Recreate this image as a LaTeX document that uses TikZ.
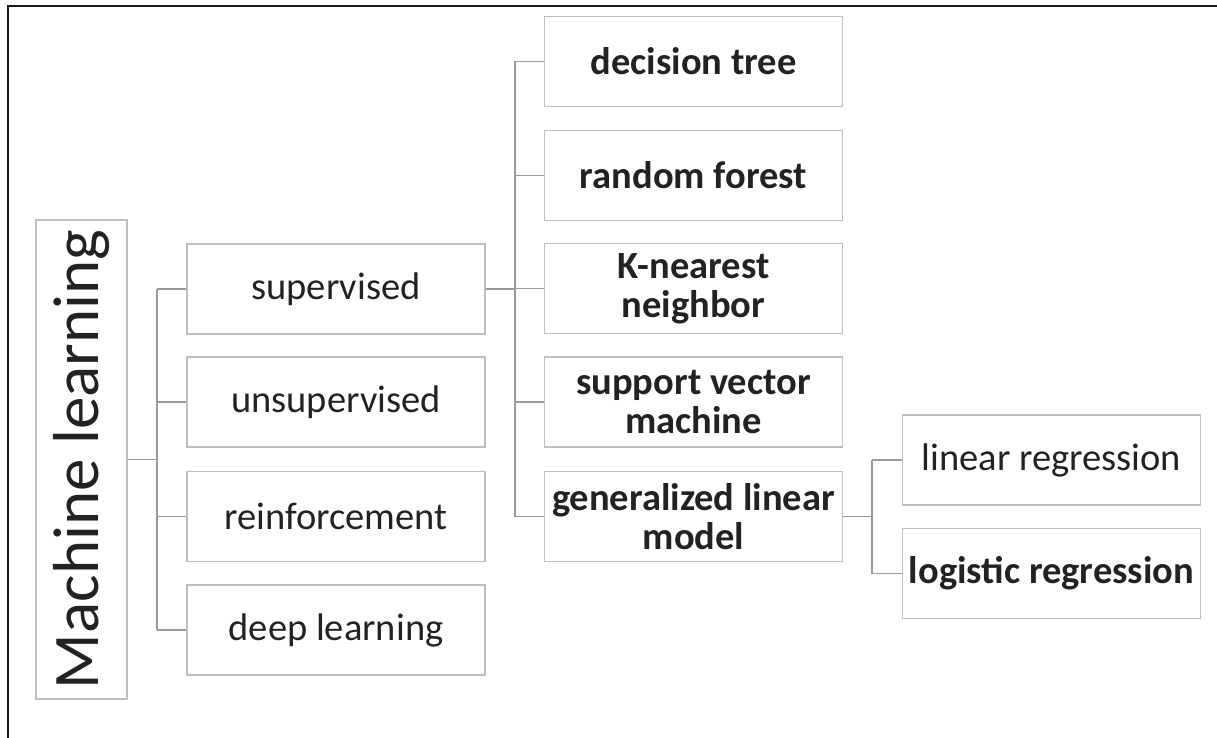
\documentclass[tikz,border=0pt]{standalone}
\usepackage{fontspec}
\setmainfont{Carlito}
\definecolor{boxgray}{HTML}{BFBFBF}
\definecolor{linegray}{HTML}{9A9A9A}
\definecolor{txt}{HTML}{222222}
\begin{document}
\begin{tikzpicture}[x=1pt,y=-1pt,
  box/.style={draw=boxgray, line width=1.2pt, minimum width=298pt, minimum height=90pt,
    inner sep=0pt, align=center, text=txt, font=\fontsize{38.5}{39}\selectfont},
  bbox/.style={box, font=\fontsize{38.5}{39}\selectfont\bfseries},
  conn/.style={draw=linegray, line width=1.3pt}]
\useasboundingbox (0,0) rectangle (1217,738);
% outer frame (top and left edges only)
\draw[line width=2pt, black!90] (8,738) -- (8,6) -- (1217,6);

% root
\node[draw=boxgray, line width=1.2pt, rotate=90, minimum width=479pt, minimum height=91pt,
  inner sep=0pt, text=txt, font=\fontsize{65}{66}\selectfont] (ml) at (81.5,459.5) {Machine learning};

% first level
\node[box] (sup)   at (336,289)   {supervised};
\node[box] (unsup) at (336,402)   {unsupervised};
\node[box] (reinf) at (336,516.5) {reinforcement};
\node[box] (deep)  at (336,630)   {deep learning};

% second level
\node[bbox] (dt)  at (693.5,61.5)  {decision tree};
\node[bbox] (rf)  at (693.5,175.5) {random forest};
\node[bbox] (knn) at (693.5,288.5) {K-nearest\\neighbor};
\node[bbox] (svm) at (693.5,402)   {support vector\\machine};
\node[bbox] (glm) at (693.5,516.5) {generalized linear\\model};

% third level
\node[box]  (lin) at (1051.5,460)   {linear regression};
\node[bbox] (log) at (1051.5,573.5) {logistic regression};

% junctions
\coordinate (j1) at (157,459.5);
\coordinate (j2) at (515,289);
\coordinate (j3) at (872,516.5);

% root -> first level
\draw[conn] (ml.south) -- (j1);
\draw[conn] (j1 |- sup.west) -- (j1 |- deep.west);
\foreach \n in {sup,unsup,reinf,deep} \draw[conn] (j1 |- \n.west) -- (\n.west);

% supervised -> algorithms
\draw[conn] (sup.east) -- (j2);
\draw[conn] (j2 |- dt.west) -- (j2 |- glm.west);
\foreach \n in {dt,rf,knn,svm,glm} \draw[conn] (j2 |- \n.west) -- (\n.west);

% generalized linear model -> regressions
\draw[conn] (glm.east) -- (j3);
\draw[conn] (j3 |- lin.west) -- (j3 |- log.west);
\foreach \n in {lin,log} \draw[conn] (j3 |- \n.west) -- (\n.west);
\end{tikzpicture}
\end{document}
